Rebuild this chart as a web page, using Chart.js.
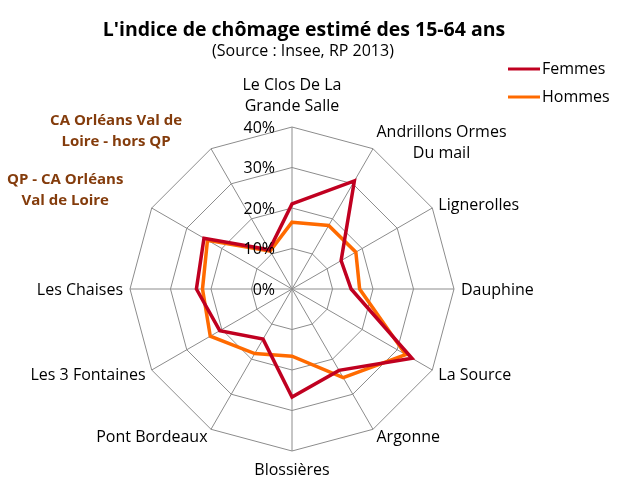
<!DOCTYPE html>
<html>
<head>
<meta charset="utf-8">
<script src="https://cdn.jsdelivr.net/npm/chart.js@4/dist/chart.umd.min.js"></script>
<style>
  body { margin: 0; background: #fff; }
  canvas { display: block; }
</style>
</head>
<body>
<canvas id="chomage" width="621" height="495"></canvas>
<script>
const categories = [
  ['Le Clos De La', 'Grande Salle'],
  ['Andrillons Ormes', 'Du mail'],
  'Lignerolles',
  'Dauphine',
  'La Source',
  'Argonne',
  'Blossières',
  'Pont Bordeaux',
  'Les 3 Fontaines',
  'Les Chaises',
  ['QP - CA Orléans', 'Val de Loire'],
  ['CA Orléans Val de', 'Loire - hors QP']
];

const femmes = [21, 30.8, 14, 14.6, 34.2, 23.2, 26.7, 14.3, 20.6, 23.6, 25.1, 11.2];
const hommes = [16.5, 18.1, 18.2, 16.7, 32.4, 25.3, 16.6, 18.4, 23.3, 22.1, 24.1, 10.8];

const tickValues = [0, 10, 20, 30, 40];

const title = "L'indice de chômage estimé des 15-64 ans";
const subtitle = '(Source : Insee, RP 2013)';

// the two aggregate categories sit apart, in brown
const brownLabels = {10: [-1.40, -0.61], 11: [-1.086, -0.975]};

const textPlugin = {
  id: 'textPlugin',
  afterDraw(chart) {
    const ctx = chart.ctx;
    const s = chart.scales.r;
    const lh = 21;
    ctx.save();

    // title
    ctx.fillStyle = '#000';
    ctx.textAlign = 'center';
    ctx.textBaseline = 'middle';
    ctx.font = 'bold 19.5px "Open Sans"';
    ctx.fillText(title, 304, 30);
    ctx.font = '16px "Open Sans"';
    ctx.fillText(subtitle, 303, 51);

    // tick labels left of the vertical axis
    ctx.textAlign = 'right';
    tickValues.forEach(v => {
      const y = s.yCenter - s.getDistanceFromCenterForValue(v);
      ctx.fillText(v + '%', s.xCenter - 17, y + 1);
    });

    // point labels
    chart.data.labels.forEach((lab, i) => {
      const lines = Array.isArray(lab) ? lab : [lab];
      if (brownLabels[i]) {
        ctx.font = 'bold 15px "Open Sans"';
        ctx.fillStyle = '#843C0C';
        ctx.textAlign = 'center';
        const cx = s.xCenter + brownLabels[i][0] * s.drawingArea;
        const cy = s.yCenter + brownLabels[i][1] * s.drawingArea;
        lines.forEach((t, k) => ctx.fillText(t, cx, cy + (k - (lines.length - 1) / 2) * lh));
        return;
      }
      ctx.font = '16px "Open Sans"';
      ctx.fillStyle = '#000';
      const p = s.getPointPosition(i, s.drawingArea);
      const a = i * Math.PI * 2 / chart.data.labels.length;
      const w = Math.max(...lines.map(t => ctx.measureText(t).width));
      const h = lines.length * lh;
      let cx, top;
      if (i === 0) {
        cx = p.x; top = p.y - 11 - h;
      } else if (Math.abs(a - Math.PI) < 0.01) {
        cx = p.x; top = p.y + 8;
      } else {
        const dx = Math.sin(a) * 7;
        cx = Math.sin(a) > 0 ? p.x + dx + w / 2 : p.x + dx - w / 2;
        top = p.y - Math.cos(a) * 8 - h / 2;
      }
      ctx.textAlign = 'center';
      lines.forEach((t, k) => ctx.fillText(t, cx, top + lh / 2 + k * lh + 1));
    });

    // legend
    chart.data.datasets.forEach((ds, k) => {
      const y = 69 + k * 28;
      ctx.strokeStyle = ds.borderColor;
      ctx.lineWidth = 3;
      ctx.beginPath();
      ctx.moveTo(508, y);
      ctx.lineTo(540, y);
      ctx.stroke();
      ctx.fillStyle = '#000';
      ctx.textAlign = 'left';
      ctx.font = '16px "Open Sans"';
      ctx.fillText(ds.label, 542, y);
    });
    ctx.restore();
  }
};

new Chart(document.getElementById('chomage'), {
  type: 'radar',
  data: {
    labels: categories,
    datasets: [
      { label: 'Femmes', data: femmes, borderColor: '#C00020', backgroundColor: 'transparent', borderWidth: 3.5, pointRadius: 0, fill: false },
      { label: 'Hommes', data: hommes, borderColor: '#FF6A00', backgroundColor: 'transparent', borderWidth: 3.5, pointRadius: 0, fill: false }
    ]
  },
  options: {
    responsive: false,
    animation: false,
    layout: { padding: { left: 130, right: 167, top: 127, bottom: 44 } },
    plugins: {
      legend: { display: false },
      title: { display: false },
      tooltip: { enabled: false }
    },
    scales: {
      r: {
        min: 0,
        max: 40,
        ticks: { stepSize: 10, display: false },
        grid: { color: '#8c8c8c', lineWidth: 1 },
        angleLines: { color: '#8c8c8c', lineWidth: 1 },
        pointLabels: { display: false }
      }
    }
  },
  plugins: [textPlugin]
});
</script>
</body>
</html>
